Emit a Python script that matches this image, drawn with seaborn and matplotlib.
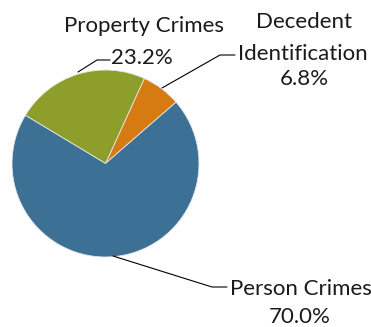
import matplotlib
matplotlib.use("Agg")
import matplotlib.pyplot as plt
from matplotlib.lines import Line2D
import seaborn as sns

# données
categories = ["Decedent\nIdentification", "Property Crimes", "Person Crimes"]
valeurs = [6.8, 23.2, 70.0]
couleurs = ["#D57B12", "#8E9E2B", "#3D7095"]

W, H = 371, 327


def fx(x):
    return x / W


def fy(y):
    return 1 - y / H


def main():
    sns.set_style("white")
    plt.rcParams["font.family"] = ["Lato", "DejaVu Sans"]

    fig = plt.figure(figsize=(W / 100, H / 100), dpi=100)
    cx, cy, r = 105.5, 163.5, 93.5
    ax = fig.add_axes([fx(cx - r), fy(cy + r), 2 * r / W, 2 * r / H])
    ax.pie(valeurs, colors=sns.color_palette(couleurs), startangle=41,
           counterclock=True,
           wedgeprops=dict(edgecolor="#e8e8e8", linewidth=0.6))
    ax.set_aspect("equal")
    ax.set_xlim(-1, 1)
    ax.set_ylim(-1, 1)
    ax.axis("off")

    # étiquettes (x centre, ligne de base)
    taille = 16
    etiquettes = [
        (144, 32, "Property Crimes"),
        (142, 64, f"{valeurs[1]:.1f}%"),
        (304, 28, "Decedent"),
        (303, 60, "Identification"),
        (304, 85, f"{valeurs[0]:.1f}%"),
        (301, 295, "Person Crimes"),
        (300, 323, f"{valeurs[2]:.1f}%"),
    ]
    for x, y, txt in etiquettes:
        fig.text(fx(x), fy(y), txt, ha="center", va="baseline",
                 fontsize=taille, color="#1a1a1a")

    # lignes de rappel
    rappels = [
        [(78, 72), (97, 60), (110, 60)],
        [(162, 88), (220, 55), (235, 55)],
        [(113, 256), (212, 287), (227, 287)],
    ]
    for pts in rappels:
        xs = [fx(p[0]) for p in pts]
        ys = [fy(p[1]) for p in pts]
        fig.add_artist(Line2D(xs, ys, color="black", linewidth=0.8))

    fig.savefig("out.png", dpi=100, facecolor="white")


if __name__ == "__main__":
    main()
